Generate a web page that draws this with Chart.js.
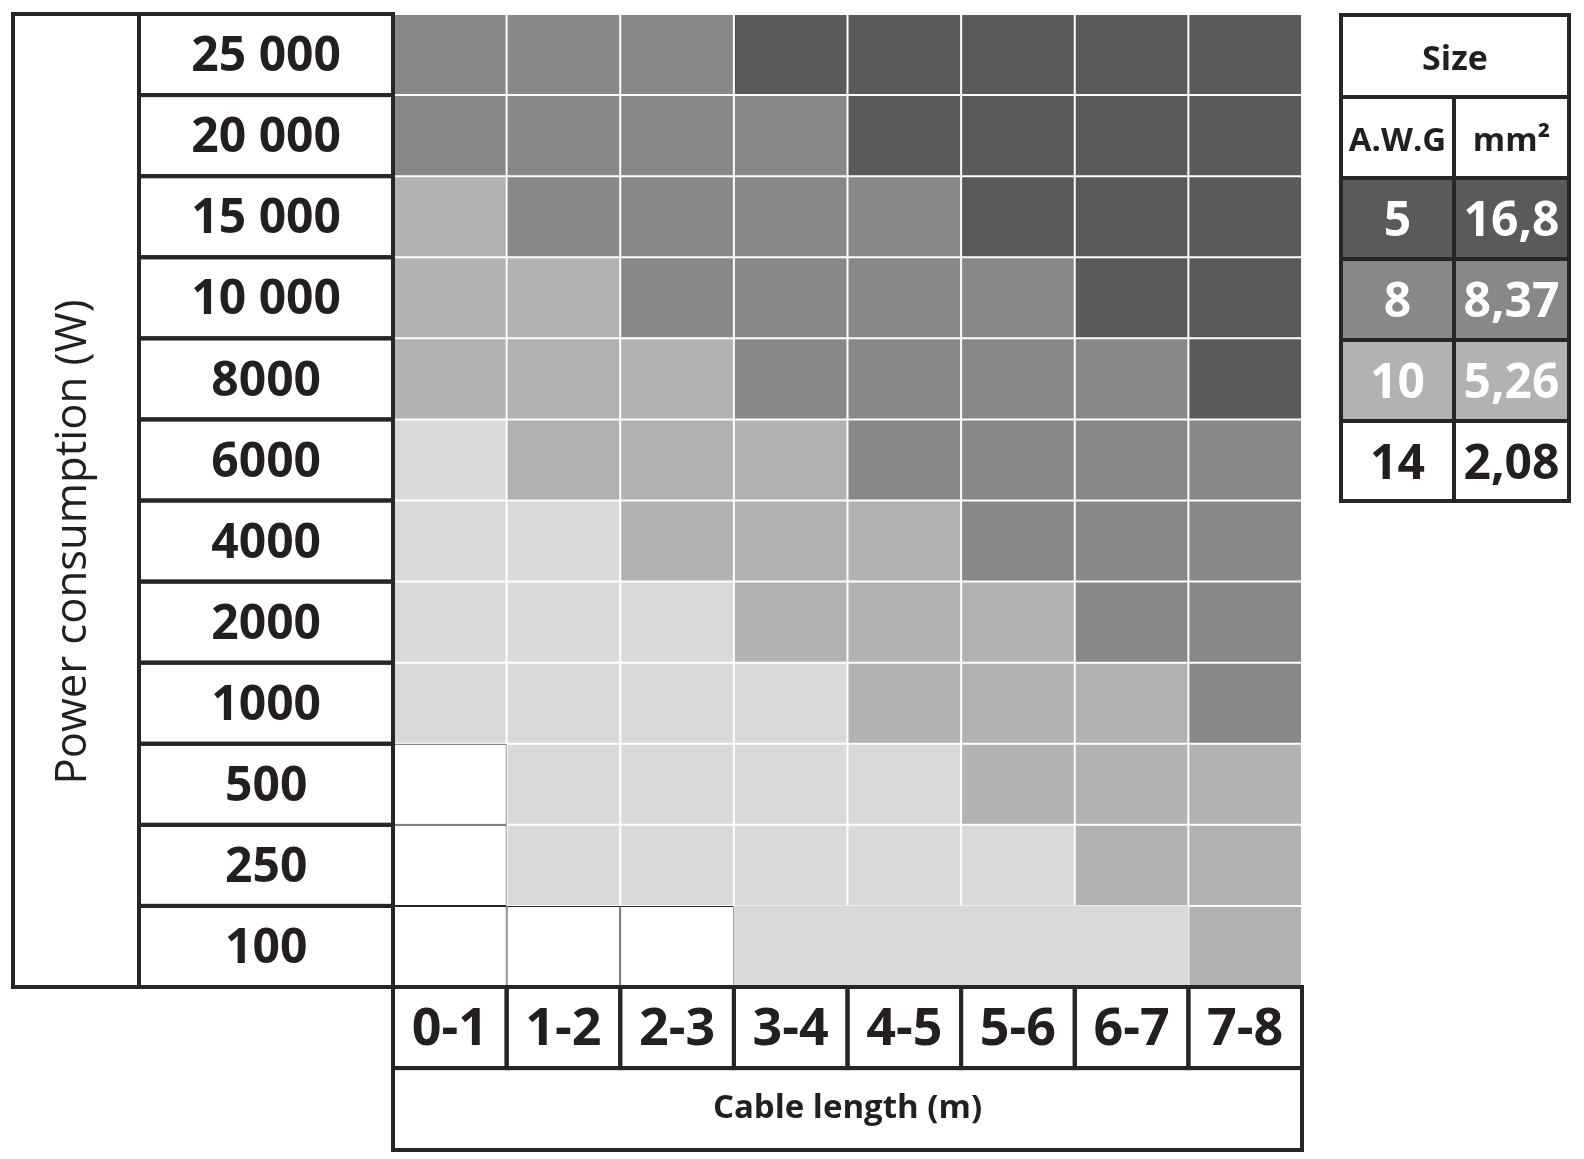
<!DOCTYPE html>
<html>
<head>
<meta charset="utf-8">
<script src="https://cdn.jsdelivr.net/npm/chart.js@4.4.1/dist/chart.umd.min.js"></script>
<style>
  html, body { margin: 0; background: #fff; }
  canvas { display: block; }
</style>
</head>
<body>
<canvas id="myChart" width="1584" height="1159"></canvas>
<script>
const powerLabels = ['25 000', '20 000', '15 000', '10 000', '8000', '6000', '4000', '2000', '1000', '500', '250', '100'];
const lengthLabels = ['0-1', '1-2', '2-3', '3-4', '4-5', '5-6', '6-7', '7-8'];

// shade of every cell, top row first: 4 = darkest grey ... 1 = lightest grey, 0 = blank
const cellShade = [
  [3, 3, 3, 4, 4, 4, 4, 4],
  [3, 3, 3, 3, 4, 4, 4, 4],
  [2, 3, 3, 3, 3, 4, 4, 4],
  [2, 2, 3, 3, 3, 3, 4, 4],
  [2, 2, 2, 3, 3, 3, 3, 4],
  [1, 2, 2, 2, 3, 3, 3, 3],
  [1, 1, 2, 2, 2, 3, 3, 3],
  [1, 1, 1, 2, 2, 2, 3, 3],
  [1, 1, 1, 1, 2, 2, 2, 3],
  [0, 1, 1, 1, 1, 2, 2, 2],
  [0, 1, 1, 1, 1, 1, 2, 2],
  [0, 0, 0, 1, 1, 1, 1, 2]
];
const shadeColors = ['#ffffff', '#d9d9d9', '#b2b2b2', '#888888', '#5a5a5a'];
// cells drawn as one block: [row, first col, last col]
const mergedCells = [[11, 3, 6]];

// size key
const sizeAwg = ['5', '8', '10', '14'];
const sizeMm2 = ['16,8', '8,37', '5,26', '2,08'];
const sizeColors = ['#5a5a5a', '#888888', '#b2b2b2', '#ffffff'];

const ink = '#231f20';
const frame = '#262626';
const FONT = "'Open Sans', sans-serif";

Chart.defaults.font.family = FONT;
Chart.defaults.color = ink;

function inMerge(r, c) {
  return mergedCells.find(m => m[0] === r && c >= m[1] && c <= m[2]);
}

// each power row is one stacked band, bottom row first
const datasets = cellShade.map((row, r) => ({
  label: powerLabels[r],
  data: row.map(() => 1),
  yAxisID: 'y',
  backgroundColor: row.map(s => shadeColors[s]),
  borderColor: row.map(s => s === 0 ? frame : '#ffffff'),
  borderWidth: ctx => inMerge(r, ctx.dataIndex) ? 0 : 1,
  inflateAmount: ctx => inMerge(r, ctx.dataIndex) ? 0.5 : 0,
  borderSkipped: false,
  barPercentage: 1,
  categoryPercentage: 1
})).reverse();

function txt(ctx, text, x, y, font, color) {
  ctx.font = font;
  ctx.fillStyle = color;
  ctx.textAlign = 'center';
  ctx.textBaseline = 'middle';
  ctx.fillText(text, x, y);
}

function drawSizeKey(ctx) {
  const L = 1341, M = 1454, R = 1569;
  const rows = [15, 97, 178, 259, 340, 421, 501];
  const dy = 4;
  ctx.save();
  sizeAwg.forEach((a, i) => {
    ctx.fillStyle = sizeColors[i];
    ctx.fillRect(L, rows[i + 2], R - L, rows[i + 3] - rows[i + 2]);
  });
  ctx.strokeStyle = frame;
  ctx.lineWidth = 4;
  ctx.strokeRect(L, rows[0], R - L, rows[6] - rows[0]);
  ctx.beginPath();
  for (let k = 1; k < 6; k++) {
    ctx.moveTo(L, rows[k]);
    ctx.lineTo(R, rows[k]);
  }
  ctx.moveTo(M, rows[1]);
  ctx.lineTo(M, rows[6]);
  ctx.stroke();

  txt(ctx, 'Size', (L + R) / 2, (rows[0] + rows[1]) / 2 + dy, 'bold 34px ' + FONT, ink);
  txt(ctx, 'A.W.G', (L + M) / 2, (rows[1] + rows[2]) / 2 + dy, 'bold 33px ' + FONT, ink);
  txt(ctx, 'mm²', (M + R) / 2, (rows[1] + rows[2]) / 2 + dy, 'bold 33px ' + FONT, ink);
  sizeAwg.forEach((a, i) => {
    const cy = (rows[i + 2] + rows[i + 3]) / 2 + dy;
    const col = i < 3 ? '#ffffff' : ink;
    txt(ctx, a, (L + M) / 2, cy, 'bold 48px ' + FONT, col);
    txt(ctx, sizeMm2[i], (M + R) / 2, cy, 'bold 48px ' + FONT, col);
  });
  ctx.restore();
}

const framePlugin = {
  id: 'frames',
  afterDraw(chart) {
    const { ctx, chartArea: a, scales: { x, y, power } } = chart;
    const n = powerLabels.length;
    const colW = x.width / lengthLabels.length;
    const rowH = y.getPixelForValue(0) - y.getPixelForValue(1);
    ctx.save();
    ctx.strokeStyle = frame;
    ctx.lineWidth = 4;
    // power label boxes
    powerLabels.forEach((p, i) => {
      const top = y.getPixelForValue(n - i);
      const bot = y.getPixelForValue(n - i - 1);
      ctx.strokeRect(power.left, top, power.right - power.left, bot - top);
    });
    // axis title box on the left
    ctx.strokeRect(13, a.top, power.left - 13, a.bottom - a.top);
    // length label boxes and title box below
    lengthLabels.forEach((l, j) => {
      const cx = x.getPixelForValue(j);
      ctx.strokeRect(cx - colW / 2, x.top, colW, rowH);
    });
    ctx.strokeRect(x.left, x.top + rowH, x.width, x.bottom - x.top - rowH);

    ctx.translate(74, 542);
    ctx.rotate(-Math.PI / 2);
    txt(ctx, 'Power consumption (W)', 0, 0, '43.6px ' + FONT, ink);
    ctx.restore();

    drawSizeKey(ctx);
  }
};

const config = {
  type: 'bar',
  data: {
    labels: lengthLabels,
    datasets: datasets
  },
  options: {
    responsive: false,
    animation: false,
    layout: { padding: { left: 139, right: 282, top: 14, bottom: 9 } },
    plugins: {
      legend: { display: false },
      tooltip: { enabled: false }
    },
    scales: {
      x: {
        stacked: true,
        grid: { display: false, drawTicks: false },
        border: { display: false },
        ticks: {
          padding: 12,
          color: ink,
          autoSkip: false,
          maxRotation: 0,
          font: { size: 52, weight: 'bold' }
        },
        title: {
          display: true,
          text: 'Cable length (m)',
          color: ink,
          font: { size: 33, weight: 'bold' },
          padding: { top: 0, bottom: 22 }
        },
        afterFit(s) { s.height = 163; }
      },
      y: {
        stacked: true,
        display: false,
        min: 0,
        max: 12
      },
      power: {
        type: 'category',
        labels: powerLabels,
        position: 'left',
        offset: true,
        grid: { display: false, drawTicks: false },
        border: { display: false },
        ticks: {
          crossAlign: 'center',
          padding: 52,
          labelOffset: 3,
          color: ink,
          autoSkip: false,
          font: { size: 48, weight: 'bold' }
        },
        afterFit(s) {
          s.width = 254;
          s.paddingTop = 0;
          s.paddingBottom = 0;
        }
      }
    }
  },
  plugins: [framePlugin]
};

const myChart = new Chart(document.getElementById('myChart'), config);
</script>
</body>
</html>
